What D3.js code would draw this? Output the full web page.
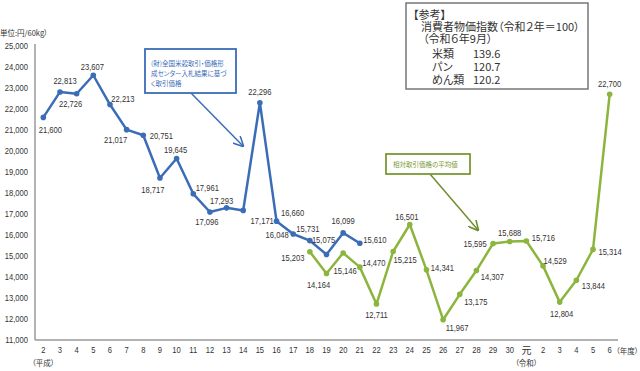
<!DOCTYPE html>
<html>
<head>
<meta charset="utf-8">
<script src="https://cdn.jsdelivr.net/npm/d3@7"></script>
<style>
  body { margin: 0; background: #fff; }
  svg { display: block; }
  .num { font-family: "Liberation Sans", Arial, sans-serif; font-size: 9.5px; fill: #333; }
  .jp { font-family: "Noto Sans CJK JP", sans-serif; font-feature-settings: "palt"; }
</style>
</head>
<body>
<svg id="chart" width="640" height="371"></svg>
<script>
// fiscal years: Heisei 2..30, Reiwa 元..6
const categories = ['2','3','4','5','6','7','8','9','10','11','12','13','14','15','16','17','18','19','20','21',
  '22','23','24','25','26','27','28','29','30','元','2','3','4','5','6'];

// (財)全国米穀取引・価格形成センター入札結果 (H2..H21)
const bidPrices = [21600, 22813, 22726, 23607, 22213, 21017, 20751, 18717, 19645, 17961,
  17096, 17293, 17171, 22296, 16660, 16048, 15731, 15075, 16099, 15610,
  null, null, null, null, null, null, null, null, null, null, null, null, null, null, null];

// 相対取引価格の平均値 (H18..R6)
const relativePrices = [null, null, null, null, null, null, null, null, null, null,
  null, null, null, null, null, null, 15203, 14164, 15146, 14470,
  12711, 15215, 16501, 14341, 11967, 13175, 14307, 15595, 15688, 15716, 14529, 12804, 13844, 15314, 22700];

const yTicks = [11000, 12000, 13000, 14000, 15000, 16000, 17000, 18000, 19000, 20000,
  21000, 22000, 23000, 24000, 25000];

const cpiItems = ['米類', 'パン', 'めん類'];
const cpiValues = ['139.6', '120.7', '120.2'];

// label placement (dx, dy from the point), layout only
const bidLabelPos = [[7,12],[5,-11],[-6,10],[-1,-9],[13,-6],[-11,10],[18,0],[-7,12],[-1,-9],[14,-6],
  [-3,10],[-5,-7],[19,10],[0,-11],[16,-8],[-16,1],[-2,-12],[-3,-15],[0,-12],[15,-4]];
const relLabelPos = {16:[-17,6],17:[-8,11],18:[2,18],19:[14,-4],20:[0,11],21:[12,8],22:[-3,-8],23:[16,-2],
  24:[14,8],25:[16,7],26:[16,6],27:[-18,0],28:[0,-9],29:[17,-3],30:[12,-5],31:[2,12],32:[17,5],33:[17,2],34:[0,-11]};

const blue = '#3b6db7', green = '#8cb53e', axisCol = '#999';
const fmt = d3.format(',');

const svg = d3.select('#chart');
const x = d3.scaleBand().domain(d3.range(categories.length)).range([35, 618]);
const y = d3.scaleLinear().domain([11000, 25000]).range([340, 46]);
const cx = i => x(i) + x.bandwidth() / 2;

// narrow numeric text (squeezed horizontally like the original font)
const numText = (sel, fx, fy, anchor) => sel
  .attr('class', 'num')
  .attr('transform', (d, i) => `translate(${fx(d, i)},${fy(d, i)}) scale(0.8,1)`)
  .attr('text-anchor', anchor).attr('dominant-baseline', 'central');

// axes lines
svg.append('line').attr('x1', 35).attr('x2', 35).attr('y1', 44).attr('y2', 340)
  .attr('stroke', axisCol).attr('stroke-width', 1.5);
svg.append('line').attr('x1', 35).attr('x2', 618).attr('y1', 340).attr('y2', 340)
  .attr('stroke', axisCol).attr('stroke-width', 1.5);

// y tick labels
numText(svg.selectAll('.ytick').data(yTicks).enter().append('text'), () => 28, d => y(d), 'end')
  .text(d => fmt(d));

// x tick labels
numText(svg.selectAll('.xtick').data(categories.map((c, i) => ({c, i})).filter(d => d.c !== '元'))
  .enter().append('text'), d => cx(d.i), () => 350, 'middle')
  .text(d => d.c);
svg.append('text').attr('class', 'jp').attr('x', cx(29)).attr('y', 349)
  .attr('text-anchor', 'middle').attr('dominant-baseline', 'central')
  .style('font-size', '10px').attr('fill', '#333').text('元');

svg.append('text').attr('class', 'jp').attr('x', cx(0)).attr('y', 362)
  .attr('text-anchor', 'middle').attr('dominant-baseline', 'central')
  .style('font-size', '7.5px').attr('fill', '#333').text('（平成）');
svg.append('text').attr('class', 'jp').attr('x', cx(29)).attr('y', 362)
  .attr('text-anchor', 'middle').attr('dominant-baseline', 'central')
  .style('font-size', '7.5px').attr('fill', '#333').text('（令和）');
svg.append('text').attr('class', 'jp').attr('x', 616).attr('y', 350)
  .attr('dominant-baseline', 'central')
  .style('font-size', '7.5px').attr('fill', '#333').text('（年度）');

svg.append('text').attr('class', 'jp').attr('x', 0).attr('y', 32)
  .attr('dominant-baseline', 'central').style('font-size', '7.5px').attr('fill', '#333')
  .text('単位:円/60kg）');

function drawSeries(values, color, labelPos) {
  const pts = values.map((v, i) => ({i: i, v: v})).filter(d => d.v != null);
  const line = d3.line().x(d => cx(d.i)).y(d => y(d.v));
  svg.append('path').datum(pts).attr('d', line).attr('fill', 'none')
    .attr('stroke', color).attr('stroke-width', 2.5).attr('stroke-linejoin', 'round');
  svg.append('g').selectAll('circle').data(pts).enter().append('circle')
    .attr('cx', d => cx(d.i)).attr('cy', d => y(d.v)).attr('r', 2.8).attr('fill', color);
  numText(svg.append('g').selectAll('text').data(pts).enter().append('text'),
    d => cx(d.i) + labelPos[d.i][0], d => y(d.v) + labelPos[d.i][1], 'middle')
    .text(d => fmt(d.v));
}
drawSeries(bidPrices, blue, bidLabelPos);
drawSeries(relativePrices, green, relLabelPos);

// arrow markers
const defs = svg.append('defs');
[['arrBlue', blue], ['arrGreen', '#6f8f2e']].forEach(([id, c]) => {
  defs.append('marker').attr('id', id).attr('viewBox', '0 0 10 10').attr('refX', 9).attr('refY', 5)
    .attr('markerWidth', 7).attr('markerHeight', 7).attr('orient', 'auto')
    .append('path').attr('d', 'M0,0 L10,5 L0,10').attr('fill', 'none').attr('stroke', c).attr('stroke-width', 1.5);
});

// blue callout
svg.append('line').attr('x1', 191).attr('y1', 93).attr('x2', 243).attr('y2', 146)
  .attr('stroke', blue).attr('stroke-width', 1.5).attr('marker-end', 'url(#arrBlue)');
svg.append('rect').attr('x', 145).attr('y', 49).attr('width', 91).attr('height', 44)
  .attr('fill', '#fff').attr('stroke', blue).attr('stroke-width', 1.8);
['(財)全国米穀取引・価格形', '成センター入札結果に基づ', 'く取引価格'].forEach((t, k) => {
  svg.append('text').attr('class', 'jp').attr('x', 151).attr('y', 63 + k * 10)
    .attr('dominant-baseline', 'central').style('font-size', '6.5px').attr('fill', blue).text(t);
});

// green callout
svg.append('line').attr('x1', 430).attr('y1', 174).attr('x2', 478).attr('y2', 230)
  .attr('stroke', '#6f8f2e').attr('stroke-width', 1.5).attr('marker-end', 'url(#arrGreen)');
svg.append('rect').attr('x', 386).attr('y', 154).attr('width', 84).attr('height', 20)
  .attr('fill', '#fff').attr('stroke', '#7a9a35').attr('stroke-width', 1.8);
svg.append('text').attr('class', 'jp').attr('x', 393).attr('y', 164)
  .attr('dominant-baseline', 'central').style('font-size', '6.5px').attr('fill', '#7a9a35')
  .text('相対取引価格の平均値');

// reference box
svg.append('rect').attr('x', 406).attr('y', 3).attr('width', 182).attr('height', 86)
  .attr('fill', '#fff').attr('stroke', '#777').attr('stroke-width', 1.5);
const boxText = (t, xx, yy) => svg.append('text').attr('class', 'jp').attr('x', xx).attr('y', yy)
  .attr('dominant-baseline', 'central').style('font-size', '11px')
  .attr('fill', '#333').text(t);
boxText('【参考】', 413, 14);
boxText('消費者物価指数（令和２年＝100）', 421, 26);
boxText('（令和６年9月）', 423, 38);
cpiItems.forEach((t, k) => {
  boxText(t, 432, 53 + k * 13);
  boxText(cpiValues[k], 473, 53 + k * 13);
});
</script>
</body>
</html>
